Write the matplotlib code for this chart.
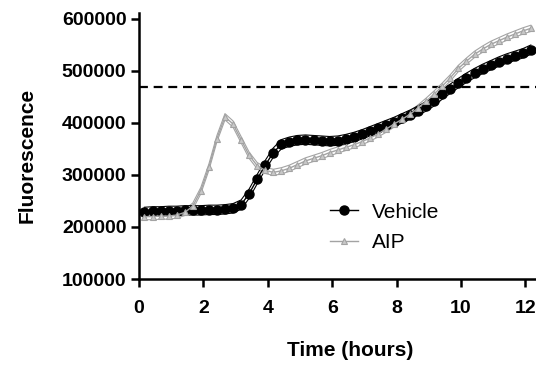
import matplotlib
matplotlib.use("Agg")
import matplotlib.pyplot as plt

plt.rcParams["font.family"] = ["Liberation Sans", "DejaVu Sans"]

# Sampling times (hours)
time_h = [0.17, 0.42, 0.67, 0.92, 1.17, 1.42, 1.67, 1.92, 2.17, 2.42,
          2.67, 2.92, 3.17, 3.42, 3.67, 3.92, 4.17, 4.42, 4.67, 4.92,
          5.17, 5.42, 5.67, 5.92, 6.17, 6.42, 6.67, 6.92, 7.17, 7.42,
          7.67, 7.92, 8.17, 8.42, 8.67, 8.92, 9.17, 9.42, 9.67, 9.92,
          10.17, 10.42, 10.67, 10.92, 11.17, 11.42, 11.67, 11.92, 12.17]

vehicle = [229000, 230000, 230000, 231000, 231000, 232000, 232000, 232000, 233000, 233000,
           234000, 236000, 243000, 264000, 292000, 319000, 343000, 359000, 364000, 367000,
           368000, 367000, 366000, 365000, 366000, 369000, 373000, 378000, 384000, 390000,
           396000, 402000, 409000, 416000, 424000, 432000, 442000, 455000, 466000, 477000,
           487000, 496000, 504000, 511000, 518000, 524000, 529000, 534000, 541000]

aip = [220000, 220000, 221000, 221000, 223000, 228000, 240000, 270000, 315000, 370000,
       412000, 398000, 368000, 338000, 318000, 309000, 305000, 308000, 313000, 320000,
       327000, 332000, 337000, 343000, 348000, 353000, 358000, 364000, 371000, 379000,
       388000, 398000, 407000, 417000, 429000, 442000, 456000, 471000, 487000, 505000,
       519000, 532000, 542000, 551000, 558000, 565000, 571000, 577000, 582000]

vehicle_sem = 9000
aip_sem = 6000
threshold = 470000

labels = ["Vehicle", "AIP"]
x_ticks = [0, 2, 4, 6, 8, 10, 12]
y_ticks = [100000, 200000, 300000, 400000, 500000, 600000]

W, H = 536, 367
fig = plt.figure(figsize=(W / 100, H / 100), dpi=100)
ax = fig.add_axes([139 / W, (H - 279) / H, (W - 139) / W, (279 - 13) / H])

grey = "#a3a3a3"

# error envelopes
for series, sem, col in [(aip, aip_sem, grey), (vehicle, vehicle_sem, "black")]:
    ax.plot(time_h, [v + sem for v in series], color=col, lw=0.8, zorder=2)
    ax.plot(time_h, [v - sem for v in series], color=col, lw=0.8, zorder=2)

ax.plot(time_h, vehicle, color="black", lw=1.0, marker="o", ms=6.5,
        mfc="black", mec="black", label=labels[0], zorder=3)
ax.plot(time_h, aip, color=grey, lw=1.0, marker="^", ms=4.5,
        mfc="#c8c8c8", mec=grey, mew=0.8, label=labels[1], zorder=4)

ax.axhline(threshold, color="black", lw=1.6, linestyle=(0, (4, 2.6)), zorder=1)

ax.set_xlim(0, (W - 139) / 32.2)
ax.set_ylim(100000, 611500)
ax.set_xticks(x_ticks)
ax.set_yticks(y_ticks)
ax.set_xticklabels([str(t) for t in x_ticks], fontsize=14, fontweight="bold")
ax.set_yticklabels([str(t) for t in y_ticks], fontsize=14, fontweight="bold")

for side in ["top", "right"]:
    ax.spines[side].set_visible(False)
for side in ["left", "bottom"]:
    ax.spines[side].set_linewidth(1.8)

ax.tick_params(axis="both", direction="out", length=6, width=1.8)
ax.tick_params(axis="y", pad=3)
ax.tick_params(axis="x", pad=9)

fig.text(350 / W, 1 - 350 / H, "Time (hours)", fontsize=15, fontweight="bold",
         ha="center", va="center")
fig.text(27 / W, 1 - 155 / H, "Fluorescence", fontsize=15, fontweight="bold",
         ha="center", va="center", rotation=90)

ax.legend(loc="center left", bbox_to_anchor=(330 / W, 1 - 227.5 / H),
          bbox_transform=fig.transFigure, frameon=False, fontsize=15,
          borderpad=0, borderaxespad=0, handlelength=1.35,
          handletextpad=0.65, labelspacing=0.55)

fig.savefig("out.png", dpi=100)
